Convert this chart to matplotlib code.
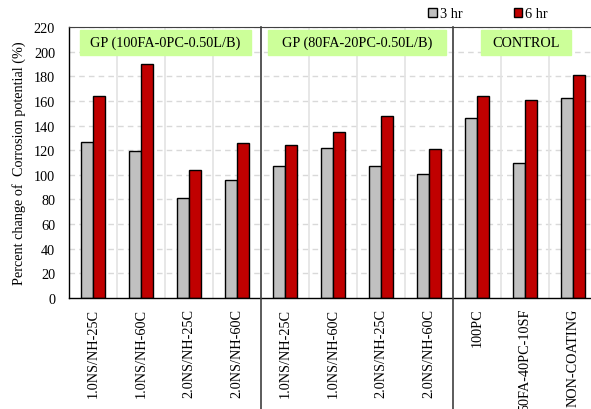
import matplotlib
matplotlib.use("Agg")
import matplotlib.pyplot as plt
import numpy as np
from matplotlib.patches import Patch

plt.rcParams['font.family'] = ['Liberation Serif', 'DejaVu Serif']

categories = ["1.0NS/NH-25C", "1.0NS/NH-60C", "2.0NS/NH-25C", "2.0NS/NH-60C",
              "1.0NS/NH-25C", "1.0NS/NH-60C", "2.0NS/NH-25C", "2.0NS/NH-60C",
              "100PC", "50FA-40PC-10SF", "NON-COATING"]
hr3 = [127, 119, 81, 96, 107, 122, 107, 101, 146, 110, 162]
hr6 = [164, 190, 104, 126, 124, 135, 148, 121, 164, 161, 181]
group_titles = ["GP (100FA-0PC-0.50L/B)", "GP (80FA-20PC-0.50L/B)", "CONTROL"]
group_sizes = [4, 4, 3]
yticks = list(range(0, 221, 20))

W, H = 591, 410
fig = plt.figure(figsize=(W / 100, H / 100), dpi=100)
# axes spans 11 category slots; its right end runs past the figure edge
left_px, right_px, top_px, bot_px = 69, 597, 28, 299
ax = fig.add_axes([left_px / W, 1 - bot_px / H, (right_px - left_px) / W, (bot_px - top_px) / H])

n = len(categories)
x = np.arange(n)
bw = 0.25
gray = "#C0C0C0"
red = "#C00000"
fs = 10.3

# grid
for yv in yticks[1:]:
    ax.axhline(yv, color="#D9D9D9", lw=1, ls=(0, (4, 3)), zorder=0)
for xv in np.arange(n + 1) - 0.5:
    ax.axvline(xv, color="#E3E3E3", lw=1.2, zorder=0)

ax.bar(x - bw / 2, hr3, bw, color=gray, edgecolor="black", lw=1, zorder=2)
ax.bar(x + bw / 2, hr6, bw, color=red, edgecolor="black", lw=1, zorder=2)

ax.set_xlim(-0.5, n - 0.5)
ax.set_ylim(0, 220)
ax.set_yticks(yticks)
ax.set_xticks(x)
ax.set_xticklabels(categories, rotation=90, fontsize=fs)
ax.tick_params(axis="both", length=0, labelsize=fs)
ax.tick_params(axis="y", pad=10)
ax.tick_params(axis="x", pad=7)
ax.set_ylabel("Percent change of  Corrosion potential (%)", fontsize=fs, labelpad=6)

for s in ["left", "bottom"]:
    ax.spines[s].set_color("black")
    ax.spines[s].set_linewidth(1)
ax.spines["top"].set_color("#404040")
ax.spines["right"].set_visible(False)

# group separators, reaching down through the label area
start = 0
for gi, size in enumerate(group_sizes):
    end = start + size
    if gi < len(group_sizes) - 1:
        ax.plot([end - 0.5, end - 0.5], [-0.42, 1.0], transform=ax.get_xaxis_transform(),
                color="#404040", lw=1.2, clip_on=False, zorder=3)
    start = end

# group title boxes
box_px = [(80, 251), (268, 446), (481, 571)]
for (x0, x1), title in zip(box_px, group_titles):
    yb0 = 1 - 56 / H
    yb1 = 1 - 31 / H
    fig.patches.append(plt.Rectangle((x0 / W, yb0), (x1 - x0) / W, yb1 - yb0,
                                     transform=fig.transFigure, color="#CCFF99", zorder=5))
    fig.text((x0 + x1) / 2 / W, (yb0 + yb1) / 2, title, ha="center", va="center",
             fontsize=fs, zorder=6)

handles = [Patch(facecolor=gray, edgecolor="black", lw=1, label="3 hr"),
           Patch(facecolor=red, edgecolor="black", lw=1, label="6 hr")]
fig.legend(handles=handles, ncol=2, frameon=False, loc="center",
           bbox_to_anchor=(488 / W, 1 - 15 / H), fontsize=fs,
           handlelength=0.6, handleheight=0.6, handletextpad=0.2, columnspacing=3.6)

fig.savefig("out.png", dpi=100)
